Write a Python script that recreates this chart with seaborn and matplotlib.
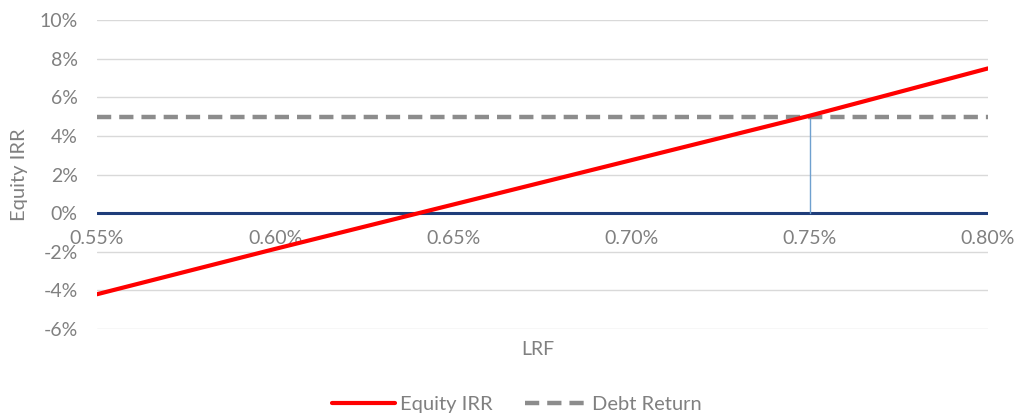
import numpy as np
import pandas as pd
import matplotlib
matplotlib.use("Agg")
import matplotlib.pyplot as plt
import seaborn as sns
from matplotlib.ticker import FuncFormatter

# data (LRF in %, returns in %)
lrf = [0.55, 0.60, 0.65, 0.70, 0.75, 0.80]
equity_irr = [-4.2, -1.85, 0.45, 2.75, 5.05, 7.5]
debt_return = [5.0, 5.0, 5.0, 5.0, 5.0, 5.0]
breakeven_lrf = 0.75
x_ticks = [0.55, 0.60, 0.65, 0.70, 0.75, 0.80]
y_ticks = [-6, -4, -2, 0, 2, 4, 6, 8, 10]

df = pd.DataFrame({"LRF": lrf, "Equity IRR": equity_irr, "Debt Return": debt_return})

sns.set_style("white")
plt.rcParams["font.family"] = ["Lato", "DejaVu Sans"]
text_grey = "#808080"

fig = plt.figure(figsize=(10.18, 4.2), dpi=100)
ax = fig.add_axes([0.0953, 0.2167, 0.8752, 0.7353])

# grid
for y in y_ticks:
    ax.axhline(y, color="#d9d9d9", lw=1, zorder=0)

# zero axis line and drop line at break-even
ax.axhline(0, color="#1f3d7a", lw=2.2, zorder=2)
ax.plot([breakeven_lrf, breakeven_lrf], [0, 5.0], color="#6fa0cf", lw=1, zorder=2)

sns.lineplot(data=df, x="LRF", y="Debt Return", ax=ax, color="#8c8c8c", lw=3.2,
             linestyle=(0, (3.2, 1.8)), label="Debt Return", zorder=3)
sns.lineplot(data=df, x="LRF", y="Equity IRR", ax=ax, color="#ff0000", lw=3,
             label="Equity IRR", zorder=4)

ax.set_xlim(0.55, 0.80)
ax.set_ylim(-6, 10)
ax.set_xticks(x_ticks)
ax.set_yticks(y_ticks)
ax.xaxis.set_major_formatter(FuncFormatter(lambda v, p: f"{v:.2f}%"))
ax.yaxis.set_major_formatter(FuncFormatter(lambda v, p: f"{v:.0f}%"))

for s in ax.spines.values():
    s.set_visible(False)
ax.spines["bottom"].set_position(("data", 0))
ax.tick_params(axis="x", length=0, pad=12, labelsize=14, labelcolor=text_grey)
ax.tick_params(axis="y", length=0, pad=14, labelsize=14, labelcolor=text_grey)

ax.set_xlabel("")
ax.set_ylabel("Equity IRR", fontsize=14.5, color=text_grey, labelpad=8)
fig.text(0.528, 0.167, "LRF", ha="center", va="center", fontsize=14, color=text_grey)

handles, labels = ax.get_legend_handles_labels()
order = [labels.index("Equity IRR"), labels.index("Debt Return")]
ax.legend([handles[i] for i in order], [labels[i] for i in order],
          loc="center", bbox_to_anchor=(0.508, 0.036), bbox_transform=fig.transFigure,
          ncol=2, frameon=False, fontsize=14.5, labelcolor=text_grey,
          handlelength=3.1, handletextpad=0.25, columnspacing=1.6)

fig.savefig("out.png", dpi=100, facecolor="white")
